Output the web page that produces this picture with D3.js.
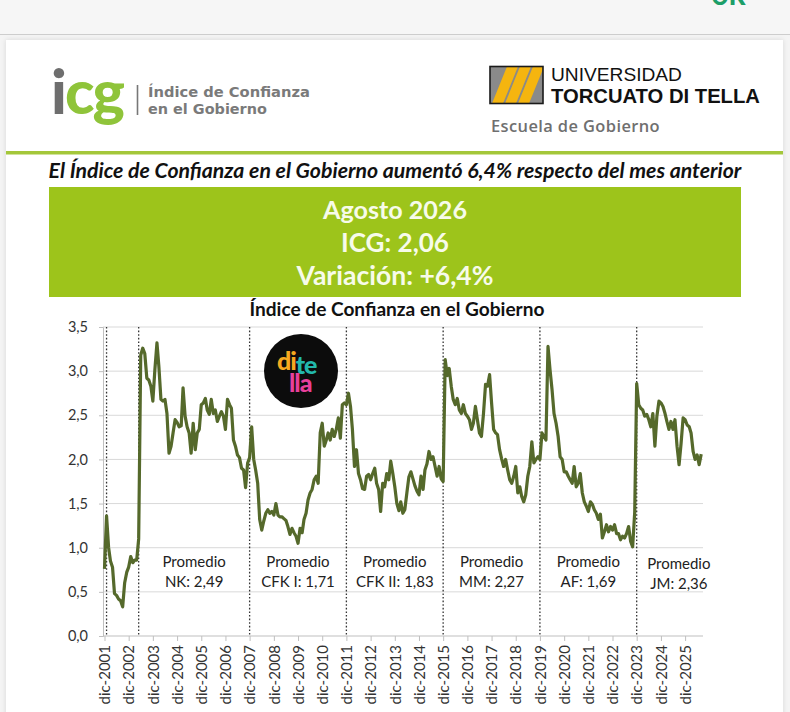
<!DOCTYPE html>
<html>
<head>
<meta charset="utf-8">
<script src="https://cdn.jsdelivr.net/npm/d3@7"></script>
<style>
  html, body { margin: 0; padding: 0; background: #f4f4f4; overflow: hidden; }
  svg { display: block; }
</style>
</head>
<body>
<svg id="chart"></svg>
<script>
// ICG monthly values (dic-2001 .. ago-2026)
const firstMonth = "2001-12";
const icgDuhalde = [0.76, 1.36, 1.00, 0.85, 0.78, 0.48, 0.46, 0.42, 0.40, 0.33, 0.60, 0.72, 0.78, 0.90, 0.83, 0.86, 0.86, 1.10];
const icgNK = [3.18, 3.26, 3.20, 2.92, 2.90, 2.83, 2.66, 3.02, 3.32, 3.05,
  2.68, 2.66, 2.68, 2.52, 2.07, 2.15, 2.30, 2.45, 2.42, 2.37,
  2.38, 2.81, 2.49, 2.37, 2.30, 2.07, 2.41, 2.11, 2.30, 2.34,
  2.62, 2.64, 2.69, 2.56, 2.51, 2.68, 2.52, 2.56, 2.43, 2.49,
  2.54, 2.49, 2.34, 2.68, 2.62, 2.58, 2.22, 2.15, 2.05, 2.02,
  1.90, 1.88, 1.68, 1.96];
const icgCFK1 = [2.02, 2.37, 2.00, 1.88, 1.73, 1.32, 1.20, 1.30, 1.39, 1.43,
  1.39, 1.41, 1.37, 1.50, 1.37, 1.35, 1.35, 1.33, 1.31, 1.24,
  1.15, 1.22, 1.17, 1.13, 1.05, 1.22, 1.17, 1.32, 1.39, 1.54,
  1.62, 1.66, 1.77, 1.81, 1.73, 2.30, 2.41, 2.15, 2.22, 2.30,
  2.22, 2.34, 2.26, 2.34, 2.47, 2.24, 2.62, 2.64];
const icgCFK2 = [2.62, 2.75, 2.60, 2.34, 1.92, 2.11, 1.84, 1.77, 1.67, 1.66,
  1.81, 1.83, 1.77, 1.84, 1.90, 1.73, 1.66, 1.41, 1.73, 1.69,
  1.84, 1.77, 1.98, 1.84, 1.69, 1.50, 1.42, 1.52, 1.39, 1.43,
  1.62, 1.80, 1.86, 1.78, 1.70, 1.64, 1.60, 1.81, 1.66, 1.88,
  1.95, 2.09, 2.00, 2.03, 1.92, 1.81, 1.92, 1.78];
const icgMM = [1.75, 3.13, 2.95, 3.03, 2.83, 2.68, 2.62, 2.69, 2.56, 2.52,
  2.62, 2.52, 2.49, 2.45, 2.34, 2.41, 2.60, 2.45, 2.30, 2.26,
  2.52, 2.85, 2.83, 2.96, 2.64, 2.34, 2.30, 2.28, 2.11, 2.01,
  1.92, 2.00, 1.88, 1.77, 1.73, 1.81, 1.92, 1.62, 1.69, 1.58,
  1.52, 1.60, 1.81, 1.92, 2.20, 1.96, 2.00, 2.03];
const icgAF = [2.00, 2.30, 2.26, 2.22, 3.28, 3.02, 2.79, 2.52, 2.41, 2.26,
  2.03, 2.00, 1.86, 1.86, 1.81, 1.77, 1.73, 1.92, 1.69, 1.73,
  1.84, 1.62, 1.52, 1.47, 1.41, 1.52, 1.49, 1.43, 1.39, 1.32,
  1.38, 1.11, 1.18, 1.26, 1.18, 1.24, 1.20, 1.26, 1.16, 1.16,
  1.09, 1.13, 1.11, 1.16, 1.24, 1.07, 1.01, 1.40];
const icgJM = [2.86, 2.62, 2.58, 2.56, 2.49, 2.51, 2.45, 2.37, 2.52, 2.15,
  2.49, 2.66, 2.64, 2.60, 2.52, 2.43, 2.34, 2.43, 2.34, 2.45,
  2.15, 1.94, 2.18, 2.47, 2.45, 2.39, 2.37, 2.30, 2.09, 2.00,
  2.05, 1.94, 2.06];

// governments: start month (dotted line) and average
const periodNames = ["NK", "CFK I", "CFK II", "MM", "AF", "JM"];
const periodStarts = ["2003-05", "2007-12", "2011-12", "2015-12", "2019-12", "2023-12"];
const periodAverages = [2.49, 1.71, 1.83, 2.27, 1.69, 2.36];
const dividerMonths = ["2002-01"].concat(periodStarts);

const yTicks = [0, 0.5, 1, 1.5, 2, 2.5, 3, 3.5];
const xTickYears = [2001, 2002, 2003, 2004, 2005, 2006, 2007, 2008, 2009, 2010, 2011, 2012, 2013,
  2014, 2015, 2016, 2017, 2018, 2019, 2020, 2021, 2022, 2023, 2024, 2025];

const headline = "El Índice de Confianza en el Gobierno aumentó 6,4% respecto del mes anterior";
const boxLines = ["Agosto 2026", "ICG: 2,06", "Variación: +6,4%"];
const chartTitle = "Índice de Confianza en el Gobierno";

const parseMonth = d3.timeParse("%Y-%m");
const comma = (f) => (v) => d3.format(f)(v).replace(".", ",");

function fit(sel, w) {
  const fs = parseFloat(sel.attr("font-size"));
  const len = sel.node().getComputedTextLength();
  sel.attr("font-size", (fs * w / len).toFixed(2));
  return sel;
}

const svg = d3.select("#chart").attr("width", 790).attr("height", 712);

const defs = svg.append("defs");
defs.append("filter").attr("id", "shadow")
  .attr("x", "-5%").attr("y", "-5%").attr("width", "110%").attr("height", "110%")
  .append("feDropShadow")
  .attr("dx", 0).attr("dy", 0).attr("stdDeviation", 2.5)
  .attr("flood-color", "#000").attr("flood-opacity", 0.12);

// top band of the page
svg.append("rect").attr("x", 0).attr("y", 0).attr("width", 790).attr("height", 34).attr("fill", "#f6f6f6");
svg.append("line").attr("x1", 0).attr("x2", 790).attr("y1", 34.5).attr("y2", 34.5)
  .attr("stroke", "#cdcdcd").attr("stroke-width", 1);
svg.append("text").attr("x", 711).attr("y", 5)
  .attr("font-family", "Roboto, sans-serif").attr("font-weight", 700).attr("font-size", 26)
  .attr("fill", "#1c9e68").text("OK");

// card
svg.append("rect").attr("x", 6).attr("y", 40).attr("width", 777).attr("height", 700)
  .attr("fill", "#fff").attr("filter", "url(#shadow)");

// ICG logo
const icg = svg.append("text").attr("x", 51).attr("y", 114)
  .attr("font-family", "Lato, sans-serif").attr("font-weight", 900).attr("font-size", 61)
  .attr("letter-spacing", -2);
icg.append("tspan").attr("fill", "#6e6e6e").text("i");
icg.append("tspan").attr("fill", "#8fc43a").text("cg");
svg.append("line").attr("x1", 137.5).attr("x2", 137.5).attr("y1", 85).attr("y2", 115)
  .attr("stroke", "#777").attr("stroke-width", 1.6);
fit(svg.append("text").attr("x", 148).attr("y", 97)
  .attr("font-family", "DejaVu Sans, sans-serif").attr("font-weight", 700).attr("font-size", 14)
  .attr("fill", "#7a7a7a").text("Índice de Confianza"), 162);
fit(svg.append("text").attr("x", 148).attr("y", 114)
  .attr("font-family", "DejaVu Sans, sans-serif").attr("font-weight", 700).attr("font-size", 14)
  .attr("fill", "#7a7a7a").text("en el Gobierno"), 119);

// UTDT logo
const bx = 490, by = 66.5, bw = 53, bh = 37;
defs.append("clipPath").attr("id", "boxclip").append("rect")
  .attr("x", bx).attr("y", by).attr("width", bw).attr("height", bh);
svg.append("rect").attr("x", bx).attr("y", by).attr("width", bw).attr("height", bh).attr("fill", "#8a8a8a");
const stripes = svg.append("g").attr("clip-path", "url(#boxclip)");
[0, 1, 2].forEach(i => {
  const x0 = bx + 2 + i * 13;
  stripes.append("polygon")
    .attr("points", [[x0, by + bh], [x0 + 11, by + bh], [x0 + 26, by], [x0 + 15, by]].join(" "))
    .attr("fill", "#f5b50f");
});
svg.append("rect").attr("x", bx).attr("y", by).attr("width", bw).attr("height", bh)
  .attr("fill", "none").attr("stroke", "#1a1a1a").attr("stroke-width", 1.6);
fit(svg.append("text").attr("x", 551).attr("y", 81)
  .attr("font-family", "Liberation Sans Narrow, Liberation Sans, sans-serif").attr("font-size", 20)
  .attr("fill", "#111").text("UNIVERSIDAD"), 131);
fit(svg.append("text").attr("x", 551).attr("y", 103)
  .attr("font-family", "Liberation Sans Narrow, Liberation Sans, sans-serif").attr("font-weight", 700)
  .attr("font-size", 21).attr("fill", "#111").text("TORCUATO DI TELLA"), 209);
fit(svg.append("text").attr("x", 491).attr("y", 132)
  .attr("font-family", "Open Sans, sans-serif").attr("font-weight", 600).attr("font-size", 15)
  .attr("letter-spacing", 0.4).attr("fill", "#6f6f6f").text("Escuela de Gobierno"), 170);

// green rule
svg.append("rect").attr("x", 6).attr("y", 151).attr("width", 777).attr("height", 3.5).attr("fill", "#a4c73a");

// headline + green box
fit(svg.append("text").attr("x", 395).attr("y", 178).attr("text-anchor", "middle")
  .attr("font-family", "Lato, sans-serif").attr("font-weight", 700).attr("font-style", "italic")
  .attr("font-size", 17).attr("fill", "#111").text(headline), 693);

svg.append("rect").attr("x", 49).attr("y", 187).attr("width", 692).attr("height", 110).attr("fill", "#9dc41b");
const boxWidths = [144, 108, 197];
boxLines.forEach((t, i) => {
  fit(svg.append("text").attr("x", 395).attr("y", 219 + i * 33).attr("text-anchor", "middle")
    .attr("font-family", "Lato, sans-serif").attr("font-weight", 700).attr("font-size", 23)
    .attr("fill", "#f7fbea").text(t), boxWidths[i]);
});

fit(svg.append("text").attr("x", 397).attr("y", 316).attr("text-anchor", "middle")
  .attr("font-family", "Lato, sans-serif").attr("font-weight", 700).attr("font-size", 16)
  .attr("fill", "#111").text(chartTitle), 295);

// chart
const plotLeft = 103, plotRight = 703, plotTop = 327, plotBottom = 636;
const x = d3.scaleTime().domain([parseMonth("2001-12"), parseMonth("2026-08")]).range([104.5, 701.2]);
const y = d3.scaleLinear().domain([0, 3.5]).range([plotBottom, plotTop]);

const values = [].concat(icgDuhalde, icgNK, icgCFK1, icgCFK2, icgMM, icgAF, icgJM);
const start = parseMonth(firstMonth);
const series = values.map((v, i) => ({ date: d3.timeMonth.offset(start, i), value: v }));

const chart = svg.append("g");

chart.append("g").selectAll("line")
  .data(yTicks.filter(d => d > 0))
  .enter().append("line")
  .attr("x1", plotLeft).attr("x2", plotRight)
  .attr("y1", d => y(d)).attr("y2", d => y(d))
  .attr("stroke", "#d9d9d9").attr("stroke-width", 1);

const yAxis = chart.append("g").attr("transform", `translate(${plotLeft},0)`)
  .call(d3.axisLeft(y).tickValues(yTicks).tickFormat(comma(".1f")).tickSize(4).tickPadding(11));
yAxis.select(".domain").attr("stroke", "#bfbfbf");
yAxis.selectAll(".tick line").attr("stroke", "#bfbfbf");
yAxis.selectAll("text").attr("font-family", "Lato, sans-serif").attr("font-size", 14.5).attr("fill", "#333");

const xAxis = chart.append("g").attr("transform", `translate(0,${plotBottom})`)
  .call(d3.axisBottom(x)
    .tickValues(xTickYears.map(yr => new Date(yr, 11, 1)))
    .tickFormat(d => "dic-" + d.getFullYear())
    .tickSize(5).tickSizeOuter(0));
xAxis.select(".domain").remove();
xAxis.selectAll(".tick line").attr("stroke", "#bfbfbf");
xAxis.selectAll("text")
  .attr("transform", "rotate(-90)")
  .attr("text-anchor", "end")
  .attr("x", -9).attr("y", 0).attr("dy", "0.35em")
  .attr("font-family", "Lato, sans-serif").attr("font-size", 15).attr("fill", "#333");
chart.append("line").attr("x1", plotLeft).attr("x2", plotRight).attr("y1", plotBottom).attr("y2", plotBottom)
  .attr("stroke", "#bfbfbf").attr("stroke-width", 1);

// government dividers
chart.append("g").selectAll("line")
  .data(dividerMonths)
  .enter().append("line")
  .attr("x1", d => x(parseMonth(d))).attr("x2", d => x(parseMonth(d)))
  .attr("y1", plotTop).attr("y2", plotBottom)
  .attr("stroke", "#333").attr("stroke-width", 1.3).attr("stroke-dasharray", "1.6,2");

// averages
const labelG = chart.append("g")
  .attr("font-family", "Lato, sans-serif").attr("font-size", 15).attr("fill", "#222")
  .attr("text-anchor", "middle");
periodNames.forEach((name, i) => {
  const x0 = x(parseMonth(periodStarts[i]));
  const x1 = i < periodNames.length - 1 ? x(parseMonth(periodStarts[i + 1])) : plotRight + 18;
  const cx = (x0 + x1) / 2;
  const dy = i === periodNames.length - 1 ? 2 : 0;
  labelG.append("text").attr("x", cx).attr("y", 567 + dy).text("Promedio");
  labelG.append("text").attr("x", cx).attr("y", 587 + dy).text(name + ": " + comma(".2f")(periodAverages[i]));
});

// ICG line
chart.append("path")
  .datum(series)
  .attr("fill", "none")
  .attr("stroke", "#55692b")
  .attr("stroke-width", 3.2)
  .attr("stroke-linejoin", "round")
  .attr("d", d3.line().x(d => x(d.date)).y(d => y(d.value)));

// di tella badge
const badge = svg.append("g").attr("font-family", "Lato, sans-serif").attr("font-weight", 900)
  .attr("font-size", 25).attr("letter-spacing", -1);
badge.append("circle").attr("cx", 301).attr("cy", 371).attr("r", 37).attr("fill", "#0c0c0c");
const top1 = badge.append("text").attr("x", 277).attr("y", 370);
top1.append("tspan").attr("fill", "#f6a820").text("di");
top1.append("tspan").attr("fill", "#22b8ab").attr("dx", 0).attr("dy", 4).text("te");
badge.append("text").attr("x", 289).attr("y", 392).attr("fill", "#e8409b").text("lla");
</script>
</body>
</html>
